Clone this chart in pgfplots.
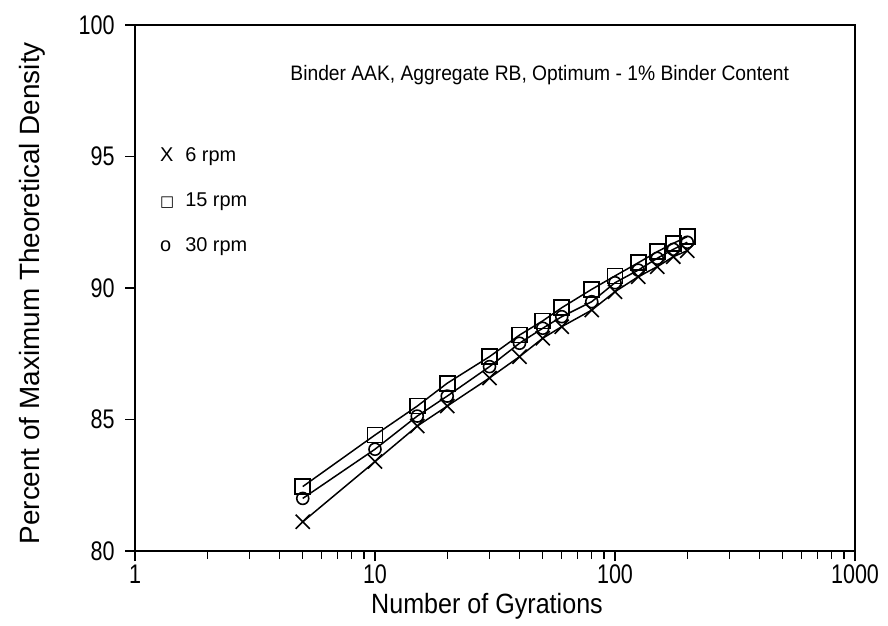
\documentclass[border=0pt]{standalone}
\usepackage{fontspec}
\setmainfont{Liberation Sans}
\newfontfamily\tickfont{Liberation Sans}[FakeStretch=0.8]
\newfontfamily\xlabfont{Liberation Sans}[FakeStretch=0.9]
\newfontfamily\notefont{Liberation Sans}[FakeStretch=0.92]
\newfontfamily\symfont{DejaVu Sans}
\usepackage{pgfplots}
\pgfplotsset{compat=1.18}

% Gyratory compaction: density vs. number of gyrations
\pgfplotstableread{
N    rpm6   rpm15  rpm30
5    81.11  82.45  82.00
10   83.40  84.41  83.87
15   84.75  85.51  85.13
20   85.51  86.38  85.89
30   86.58  87.39  87.01
40   87.39  88.21  87.90
50   88.09  88.75  88.47
60   88.53  89.25  88.91
80   89.16  89.95  89.48
100  89.86  90.46  90.20
125  90.43  90.96  90.68
150  90.81  91.38  91.13
175  91.19  91.70  91.47
200  91.42  91.95  91.74
}\gyr

\begin{document}
\begin{tikzpicture}
\begin{axis}[
  scale only axis,
  width=720bp, height=526bp,
  xmode=log, xmin=1, xmax=1000,
  ymin=80, ymax=100,
  ytick={80,85,90,95,100},
  xtick={1,10,100,1000},
  xticklabels={1,10,100,1000},
  tick pos=left,
  tick align=outside,
  major tick length=10bp,
  minor tick length=8bp,
  every tick/.style={black, line width=1.3pt},
  axis line style={line width=2pt},
  /pgf/number format/assume math mode=true,
  tick label style={font=\tickfont\fontsize{27}{27}\selectfont},
  yticklabel style={xshift=-7bp},
  xlabel={Number of Gyrations},
  ylabel={Percent of Maximum Theoretical Density},
  xlabel style={font=\xlabfont\fontsize{28}{28}\selectfont,
    at={(axis description cs:0.5,0)}, anchor=base, yshift=-62bp, xshift=-8bp},
  ylabel style={font=\fontsize{28}{28}\selectfont,
    at={(axis description cs:-0.132,0.49)}, anchor=base},
  clip=false,
]
\addplot[black, line width=1.5pt, mark=x, mark size=10bp,
  mark options={line width=1.6pt}] table[x=N, y=rpm6] {\gyr};
\addplot[black, line width=1.5pt, mark=square, mark size=7.5bp,
  mark options={line width=1.6pt}] table[x=N, y=rpm15] {\gyr};
\addplot[black, line width=1.5pt, mark=o, mark size=6bp,
  mark options={line width=1.6pt}] table[x=N, y=rpm30] {\gyr};

\node[anchor=west, font=\notefont\fontsize{21}{21}\selectfont]
  at (rel axis cs:0.211,0.905) {Binder AAK, Aggregate RB, Optimum - 1\% Binder Content};

\node[anchor=base west, font=\fontsize{20}{20}\selectfont]
  at (rel axis cs:0.03,0.740) {X};
\node[anchor=base west, font=\fontsize{20}{20}\selectfont]
  at (rel axis cs:0.065,0.740) {6 rpm};
\node[anchor=base west, font=\fontsize{15}{15}\selectfont]
  at (rel axis cs:0.03,0.655) {\symfont □};
\node[anchor=base west, font=\fontsize{20}{20}\selectfont]
  at (rel axis cs:0.065,0.655) {15 rpm};
\node[anchor=base west, font=\fontsize{20}{20}\selectfont]
  at (rel axis cs:0.03,0.570) {o};
\node[anchor=base west, font=\fontsize{20}{20}\selectfont]
  at (rel axis cs:0.065,0.570) {30 rpm};
\end{axis}
% page extent around the axis box
\path ([shift={(-135bp,-75bp)}]current axis.south west)
  rectangle ([shift={(33bp,25bp)}]current axis.north east);
\end{tikzpicture}
\end{document}
